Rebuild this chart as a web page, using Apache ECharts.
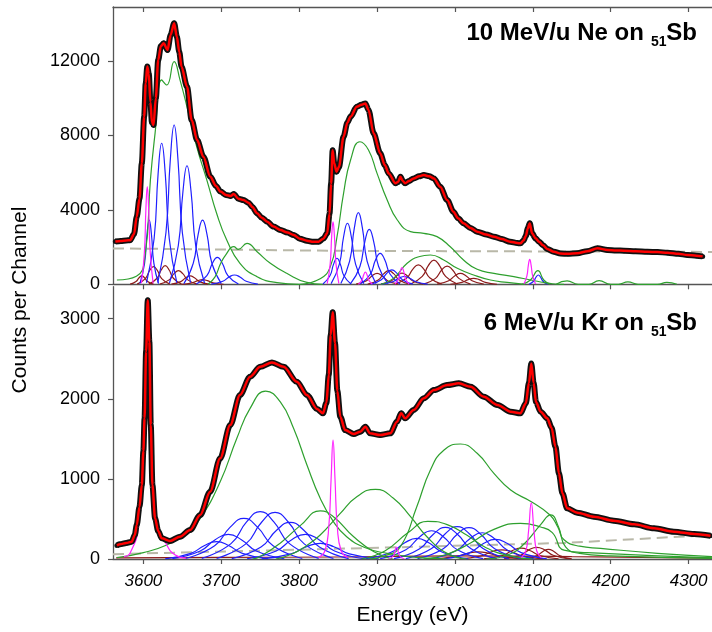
<!DOCTYPE html>
<html><head><meta charset="utf-8">
<script src="https://cdn.jsdelivr.net/npm/echarts/dist/echarts.min.js"></script>
<style>html,body{margin:0;padding:0;background:#fff}#c{width:712px;height:632px}</style>
</head><body><div id="c"></div>
<script>
// ---------- tick labels ----------
const xTicks = [3600, 3700, 3800, 3900, 4000, 4100, 4200, 4300];
const topYTicks = [0, 4000, 8000, 12000];
const botYTicks = [0, 1000, 2000, 3000];

// ---------- top panel: 10 MeV/u Ne on 51Sb ----------
const topData = [[3564,2300],[3571,2330],[3578,2360],[3583,2370],[3588,2700],[3591.5,3630],[3595,4600],[3598,6500],[3601,9000],[3603,10800],[3605,11700],[3607,11300],[3609,9800],[3611,8700],[3613,8560],[3616,10000],[3619,12050],[3622.5,12800],[3626,12950],[3631,12590],[3635,13400],[3639.5,14030],[3643,13300],[3646,12500],[3649,11690],[3656,10620],[3662,8830],[3669,7750],[3677,6860],[3686,5780],[3693,5300],[3699,4980],[3706,4800],[3712,4750],[3716,4850],[3722,4600],[3728.5,4530],[3735,4380],[3740,4150],[3746,3815],[3752,3580],[3759,3364],[3767,3100],[3776,2918],[3785,2780],[3793,2650],[3801,2450],[3810,2343],[3818,2280],[3825,2290],[3831,2450],[3836,2740],[3839,3800],[3841,5400],[3843,7200],[3845,6500],[3848,6050],[3851,6300],[3857,7930],[3862,8700],[3866,9010],[3874,9540],[3880,9650],[3885,9720],[3889,9370],[3895.6,8110],[3904,7040],[3910,6400],[3915,5960],[3923.5,5430],[3927,5500],[3930,5780],[3933,5550],[3936,5430],[3941,5550],[3947,5690],[3954,5800],[3960,5870],[3967,5800],[3973,5690],[3981,5245],[3990,4530],[3998,3900],[4004,3550],[4011,3280],[4020,3030],[4028.5,2830],[4040,2680],[4050,2560],[4060,2430],[4071,2290],[4080,2220],[4084,2200],[4088,2350],[4091,2600],[4093.5,3000],[4096,3280],[4099,2740],[4103.5,2470],[4108,2290],[4113,2100],[4118.5,1900],[4127,1750],[4135.6,1650],[4145,1640],[4157,1665],[4170,1780],[4183,1935],[4196,1843],[4207,1820],[4217,1805],[4232,1780],[4247,1750],[4260,1730],[4273,1700],[4287,1640],[4298.5,1575],[4310,1540],[4318,1500]];
const topBackground = [[3561,1930],[3850,1800],[4330,1740]];
const topGreen = [
 [[3566,230],[3591,430],[3602,1480],[3609,5600],[3615,8110],[3623.5,10980],[3630,10710],[3639.5,11960],[3647,10980],[3658,9190],[3668.5,7390],[3681.5,5600],[3694,3815],[3707,2380],[3724,1130],[3746,410],[3771.5,90],[3800,0]],
 [[3800,0],[3827,300],[3840,950],[3848.6,2560],[3857,4890],[3866,6680],[3878,7660],[3889,7216],[3900,5960],[3913,4530],[3926,3455],[3943,2830],[3960,2740],[3977,2560],[3994,2020],[4011,1305],[4028.5,806],[4050,590],[4075.6,410],[4097,230],[4110,125],[4125,30],[4140,0]],
 [[3683,0],[3692,400],[3699,1100],[3706,1600],[3716,2020],[3722,1880],[3733,2200],[3746,1750],[3763,1130],[3784,590],[3810,100],[3830,0]],
 [[3905,0],[3921,320],[3938.6,1130],[3953.5,1480],[3968.5,1575],[3985.6,1305],[4003,860],[4024,500],[4045.6,230],[4067,100],[4090,0]],
 [[4086,0],[4097,230],[4106.5,730],[4114,230],[4122,0]],
 [[4130,0],[4144,180],[4158,0],[4172,0],[4185,200],[4200,0],[4210,0],[4222,130],[4235,0],[4260,0],[4272,100],[4285,0]]
];
const topBlue = [
 [[3595.5,38],[3601.5,1121],[3604.7,2701],[3607.5,3450],[3610.3,2701],[3613.5,1121],[3619.5,38]],
 [[3604,83],[3613.8,2464],[3618.9,5935],[3623.5,7580],[3628.1,5935],[3633.2,2464],[3643,83]],
 [[3618.5,94],[3629,2782],[3634.6,6702],[3639.5,8560],[3644.4,6702],[3650,2782],[3660.5,94]],
 [[3633.5,70],[3644.8,2070],[3650.8,4988],[3656,6370],[3661.2,4988],[3667.2,2070],[3678.5,70]],
 [[3652,38],[3664,1121],[3670.4,2701],[3676,3450],[3681.6,2701],[3688,1121],[3700,38]],
 [[3668,16],[3681.5,471],[3688.7,1135],[3695,1450],[3701.3,1135],[3708.5,471],[3722,16]],
 [[3687,6],[3702,163],[3710,392],[3717,500],[3724,392],[3732,163],[3747,6]],
 [[3830.5,15],[3839.5,455],[3844.3,1096],[3848.5,1400],[3852.7,1096],[3857.5,455],[3866.5,15]],
 [[3841,36],[3851.5,1066],[3857.1,2568],[3862,3280],[3866.9,2568],[3872.5,1066],[3883,36]],
 [[3853.5,42],[3864.8,1251],[3870.8,3015],[3876,3850],[3881.2,3015],[3887.2,1251],[3898.5,42]],
 [[3866,32],[3878,959],[3884.4,2310],[3890,2950],[3895.6,2310],[3902,959],[3914,32]],
 [[3878.5,18],[3891.3,541],[3898,1304],[3904,1665],[3910,1304],[3916.8,541],[3929.5,18]],
 [[3892,8],[3905.5,250],[3912.7,603],[3919,770],[3925.3,603],[3932.5,250],[3946,8]],
 [[3905,5],[3920,137],[3928,329],[3935,420],[3942,329],[3950,137],[3965,5]],
 [[4095,6],[4101,163],[4104.2,392],[4107,500],[4109.8,392],[4113,163],[4119,6]]
];
const topMagenta = [
 [[3597.5,58],[3601.3,1706],[3603.3,4111],[3605,5250],[3606.7,4111],[3608.8,1706],[3612.5,58]],
 [[3836,37],[3839.8,1092],[3841.8,2631],[3843.5,3360],[3845.2,2631],[3847.3,1092],[3851,37]],
 [[3876,7],[3880.5,211],[3882.9,509],[3885,650],[3887.1,509],[3889.5,211],[3894,7]],
 [[3923,10],[3927.5,293],[3929.9,705],[3932,900],[3934.1,705],[3936.5,293],[3941,10]],
 [[4088.5,15],[4092.3,436],[4094.3,1049],[4096,1340],[4097.7,1049],[4099.8,436],[4103.5,15]]
];
const topBrown = [
 [[3583,5],[3590.5,146],[3594.5,352],[3598,450],[3601.5,352],[3605.5,146],[3613,5]],
 [[3592,10],[3602.5,309],[3608.1,744],[3613,950],[3617.9,744],[3623.5,309],[3634,10]],
 [[3607,11],[3617.5,325],[3623.1,783],[3628,1000],[3632.9,783],[3638.5,325],[3649,11]],
 [[3621,8],[3633,237],[3639.4,572],[3645,730],[3650.6,572],[3657,237],[3669,8]],
 [[3636,5],[3648,146],[3654.4,352],[3660,450],[3665.6,352],[3672,146],[3684,5]],
 [[3649,3],[3662.5,81],[3669.7,196],[3676,250],[3682.3,196],[3689.5,81],[3703,3]],
 [[3873,6],[3886.5,192],[3893.7,462],[3900,590],[3906.3,462],[3913.5,192],[3927,6]],
 [[3888,8],[3901.5,237],[3908.7,572],[3915,730],[3921.3,572],[3928.5,237],[3942,8]],
 [[3905,7],[3918.5,195],[3925.7,470],[3932,600],[3938.3,470],[3945.5,195],[3959,7]],
 [[3923,11],[3938,338],[3946,814],[3953,1040],[3960,814],[3968,338],[3983,11]],
 [[3943,14],[3958,423],[3966,1018],[3973,1300],[3980,1018],[3988,423],[4003,14]],
 [[3960,11],[3975,319],[3983,767],[3990,980],[3997,767],[4005,319],[4020,11]],
 [[3977,6],[3992,192],[4000,462],[4007,590],[4014,462],[4022,192],[4037,6]],
 [[3994,4],[4009,104],[4017,251],[4024,320],[4031,251],[4039,104],[4054,4]]
];

// ---------- bottom panel: 6 MeV/u Kr on 51Sb ----------
const botData = [[3566,170],[3570,183],[3578,200],[3585,216],[3589,300],[3591.5,424],[3595,650],[3598,924],[3600,1350],[3601.5,1756],[3603.5,2590],[3605.6,3230],[3607.7,2713],[3609.5,1673],[3611.6,924],[3615,508],[3619,350],[3623.6,258],[3634,225],[3647,278],[3660,362],[3673,550],[3685.7,840],[3698.6,1257],[3711.5,1673],[3724,2047],[3737,2276],[3750,2400],[3765,2455],[3780,2400],[3797,2214],[3810,2047],[3823,1873],[3830.6,1819],[3835,1950],[3838,2300],[3840.5,2797],[3843,3080],[3846,2700],[3849,2100],[3852.8,1777],[3859,1610],[3870,1560],[3878.5,1590],[3885,1652],[3891,1569],[3904,1548],[3917,1569],[3925.6,1714],[3931,1819],[3936,1756],[3947,1860],[3960,2006],[3973,2110],[3990,2172],[4005,2193],[4020,2151],[4037,2026],[4054.6,1923],[4071.5,1839],[4084,1819],[4091,1944],[4095,2200],[4098,2440],[4101,2200],[4104,1960],[4110,1839],[4118.5,1756],[4124,1640],[4129,1402],[4133.5,1070],[4138,820],[4144,633],[4157,578],[4178.5,528],[4204,478],[4230,433],[4255.5,383],[4281,341],[4307,312],[4328,291]];
const botBackground = [[3561,60],[3880,135],[4140,200],[4330,300]];
const botGreen = [
 [[3566,16],[3600,80],[3630,175],[3655,320],[3673,508],[3698.6,965],[3720,1507],[3737,1881],[3757,2097],[3775.6,1964],[3792.8,1632],[3810,1174],[3827,758],[3844,466],[3861,278],[3885,140],[3913,70],[3950,20],[3990,0]],
 [[3740,0],[3750,30],[3776,200],[3801.7,420],[3827,600],[3844,528],[3870,278],[3896,91],[3920,0]],
 [[3770,0],[3790,60],[3810,170],[3827,300],[3852.8,570],[3874,778],[3898,870],[3921,758],[3943,528],[3964,278],[3990,70],[4015,0]],
 [[3890,0],[3910,40],[3930,154],[3951,653],[3968.5,1111],[3986,1361],[4007,1436],[4028.5,1320],[4050,1070],[4071.5,861],[4098,715],[4122,550],[4132,400],[4140,240],[4160,160],[4187,133],[4260,70],[4330,30]],
 [[3880,0],[3910,100],[3940,330],[3965,470],[3990,430],[4015,300],[4040,140],[4070,40],[4100,0]],
 [[3960,0],[3990,60],[4020,200],[4050,370],[4084,445],[4110,400],[4125,330],[4140,110],[4170,80],[4330,15]],
 [[4040,0],[4070,60],[4090,200],[4110,430],[4123,550],[4133,400],[4142,150],[4160,70],[4200,40],[4330,8]]
];
const botBlue = [
 [[3628,2],[3661,70],[3678.6,169],[3694,216],[3709.4,169],[3727,70],[3760,2]],
 [[3637,3],[3673,100],[3692.2,241],[3709,308],[3725.8,241],[3745,100],[3781,3]],
 [[3654,6],[3691.5,165],[3711.5,398],[3729,508],[3746.5,398],[3766.5,165],[3804,6]],
 [[3675,7],[3712.5,192],[3732.5,463],[3750,591],[3767.5,463],[3787.5,192],[3825,7]],
 [[3694,6],[3731.5,189],[3751.5,456],[3769,583],[3786.5,456],[3806.5,189],[3844,6]],
 [[3713.5,5],[3751,149],[3771,359],[3788.5,458],[3806,359],[3826,149],[3863.5,5]],
 [[3733,3],[3770.5,100],[3790.5,241],[3808,308],[3825.5,241],[3845.5,100],[3883,3]],
 [[3752,2],[3789.5,64],[3809.5,153],[3827,196],[3844.5,153],[3864.5,64],[3902,2]],
 [[3885,3],[3918,84],[3935.6,202],[3951,258],[3966.4,202],[3984,84],[4017,3]],
 [[3904,4],[3937,115],[3954.6,276],[3970,353],[3985.4,276],[4003,115],[4036,4]],
 [[3921.7,4],[3954.7,128],[3972.3,309],[3987.7,395],[4003.1,309],[4020.7,128],[4053.7,4]],
 [[3937,4],[3970,131],[3987.6,316],[4003,403],[4018.4,316],[4036,131],[4069,4]],
 [[3952,4],[3985,127],[4002.6,306],[4018,391],[4033.4,306],[4051,127],[4084,4]],
 [[3969,4],[4002,107],[4019.6,257],[4035,328],[4050.4,257],[4068,107],[4101,4]],
 [[3986,3],[4019,80],[4036.6,193],[4052,246],[4067.4,193],[4085,80],[4118,3]]
];
const botMagenta = [
 [[3575,30],[3583,75],[3594,424],[3600,1500],[3605,3000],[3610,1500],[3617,500],[3630,175],[3641,50],[3655,10]],
 [[3825,20],[3833,100],[3838,400],[3841,1000],[3843.5,1486],[3846,1000],[3849,400],[3854,100],[3862,20]],
 [[3915,0],[3921,40],[3925,150],[3929,40],[3935,0]],
 [[4085,15],[4091,100],[4094.5,350],[4098,700],[4101.5,350],[4105,100],[4111,15]]
];
const botBrown = [
 [[3565,15],[3700,20],[3850,25],[4000,40],[4150,30],[4330,10]],
 [[3970,1],[4000,29],[4016,70],[4030,90],[4044,70],[4060,29],[4090,1]],
 [[4006,1],[4033,37],[4047,90],[4060,115],[4073,90],[4087,37],[4114,1]],
 [[4037,1],[4061,44],[4074,106],[4085,135],[4096,106],[4109,44],[4133,1]],
 [[4063,2],[4084,47],[4095,114],[4105,145],[4115,114],[4126,47],[4147,2]],
 [[4090,1],[4105,39],[4113,94],[4120,120],[4127,94],[4135,39],[4150,1]]
];

// ---------- build ----------
const FONT = "'Liberation Sans', Arial, sans-serif";
const C_GREEN = '#2ea02e', C_BLUE = '#1f1fff', C_MAG = '#ff22ff', C_BROWN = '#8c1c1c';
const series = [];
function comp(data, color, panel, w, z) {
  series.push({type: 'line', xAxisIndex: panel === 0 ? 0 : 2, yAxisIndex: panel, data: data,
    smooth: 0.5, symbol: 'none', silent: true, z: z || 2,
    lineStyle: {color: color, width: w || 1.2}});
}
function panel(p, data, bg, green, blue, mag, brown) {
  series.push({type: 'line', xAxisIndex: p === 0 ? 0 : 2, yAxisIndex: p, data: bg, symbol: 'none', silent: true, z: 1,
    lineStyle: {color: '#b9b8a8', width: 2, type: [11, 6]}});
  brown.forEach(d => comp(d, C_BROWN, p));
  blue.forEach(d => comp(d, C_BLUE, p));
  green.forEach(d => comp(d, C_GREEN, p));
  mag.forEach(d => comp(d, C_MAG, p));
  series.push({type: 'line', xAxisIndex: p === 0 ? 0 : 2, yAxisIndex: p, data: data, smooth: 0.3, smoothMonotone: 'x',
    symbol: 'circle', symbolSize: 5, showSymbol: true, itemStyle: {color: '#111'}, silent: true, z: 3,
    lineStyle: {color: '#111', width: 6}});
  series.push({type: 'line', xAxisIndex: p === 0 ? 0 : 2, yAxisIndex: p, data: data, smooth: 0.3, smoothMonotone: 'x',
    symbol: 'none', silent: true, z: 4, lineStyle: {color: '#ff0000', width: 2.5}});
}
panel(0, topData, topBackground, topGreen, topBlue, topMagenta, topBrown);
panel(1, botData, botBackground, botGreen, botBlue, botMagenta, botBrown);

const axisCol = '#555';
const plain = v => String(v);
function xAx(grid, pos, labels, inside) {
  return {type: 'value', gridIndex: grid, min: 3561, max: 4330, position: pos,
    axisLine: {show: true, onZero: false, lineStyle: {color: axisCol, width: 1.3}},
    axisTick: {show: true, inside: inside, length: 5, customValues: xTicks, lineStyle: {color: axisCol, width: 1.2}},
    axisLabel: labels ? {show: true, customValues: xTicks, formatter: plain, fontSize: 17, fontStyle: 'italic', color: '#000', fontFamily: FONT, margin: 14} : {show: false},
    splitLine: {show: false}};
}
function yAx(grid, max, ticks) {
  return {type: 'value', gridIndex: grid, min: 0, max: max,
    axisLine: {show: true, onZero: false, lineStyle: {color: axisCol, width: 1.3}},
    axisTick: {show: true, length: 5, customValues: ticks, lineStyle: {color: axisCol, width: 1.2}},
    axisLabel: {show: true, customValues: ticks, formatter: plain, fontSize: 18, color: '#000', fontFamily: FONT, margin: 13},
    splitLine: {show: false}};
}
const bottomX = xAx(1, 'bottom', true, false);
bottomX.name = 'Energy (eV)';
bottomX.nameLocation = 'middle';
bottomX.nameGap = 46;
bottomX.nameTextStyle = {fontSize: 21, color: '#000', fontFamily: FONT};

const titleFont = 'bold 24px ' + FONT, subFont = 'bold 14px ' + FONT;
function titleParts(main, yMain, ySub) {
  return [
    {type: 'text', x: 697, y: yMain, style: {text: 'Sb', font: titleFont, fill: '#000', textAlign: 'right', textVerticalAlign: 'middle', verticalAlign: 'middle', align: 'right'}},
    {type: 'text', x: 666.5, y: ySub, style: {text: '51', font: subFont, fill: '#000', textAlign: 'right', textVerticalAlign: 'middle', verticalAlign: 'middle', align: 'right'}},
    {type: 'text', x: 650.5, y: yMain, style: {text: main, font: titleFont, fill: '#000', textAlign: 'right', textVerticalAlign: 'middle', verticalAlign: 'middle', align: 'right'}}
  ];
}
const graphics = [].concat(
  titleParts('10 MeV/u Ne on ', 33.5, 42.5),
  titleParts('6 MeV/u Kr on ', 323.5, 332.5),
  [{type: 'text', x: 20, y: 300, rotation: Math.PI / 2,
    style: {text: 'Counts per Channel', font: '21px ' + FONT, fill: '#000', textAlign: 'center', textVerticalAlign: 'middle', align: 'center', verticalAlign: 'middle'}}]
);

const chart = echarts.init(document.getElementById('c'), null, {renderer: 'canvas'});
chart.setOption({
  animation: false,
  backgroundColor: '#fff',
  grid: [{left: 113, right: 0, top: 7, height: 277.3}, {left: 113, right: 0, top: 286.7, height: 272.3}],
  xAxis: [xAx(0, 'bottom', false, false), xAx(0, 'top', false, true), bottomX],
  yAxis: [yAx(0, 14900, topYTicks), yAx(1, 3400, botYTicks)],
  graphic: graphics,
  series: series
});
</script>
</body></html>
